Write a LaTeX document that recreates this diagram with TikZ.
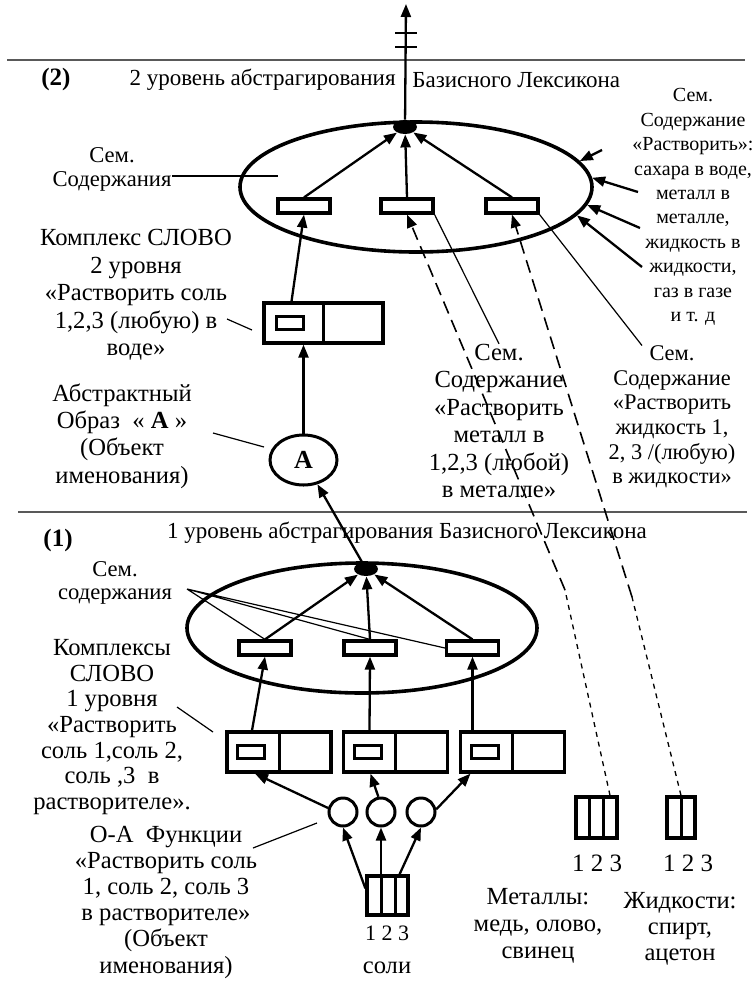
\documentclass[tikz,border=0pt]{standalone}
\usepackage{fontspec}
\setmainfont{Liberation Serif}
\usetikzlibrary{shapes.geometric,arrows.meta,positioning,calc}

\begin{document}
\begin{tikzpicture}[x=0.5pt, y=-0.5pt,
    txt/.style={align=center, inner sep=0pt, font=\fontsize{12.3}{13.7}\selectfont},
    txtsmall/.style={align=center, inner sep=0pt, font=\fontsize{11.2}{12.3}\selectfont},
    headtxt/.style={inner sep=0pt, font=\fontsize{11.5}{13}\selectfont},
    levtxt/.style={inner sep=0pt, font=\bfseries\fontsize{12.5}{14}\selectfont},
    bigell/.style={draw, ellipse, line width=1.8pt, inner sep=0pt},
    semrect/.style={draw, line width=1.6pt, minimum width=26pt, minimum height=7pt, inner sep=0pt},
    wordbox/.style={draw, line width=1.6pt, minimum height=20pt, inner sep=0pt},
    inrect/.style={draw, line width=1.5pt, minimum width=13.5pt, minimum height=6.5pt, inner sep=0pt},
    knot/.style={ellipse, fill, minimum width=12pt, minimum height=7pt, inner sep=0pt},
    oacirc/.style={draw, circle, line width=1.5pt, minimum size=14pt, inner sep=0pt},
    colbox/.style={draw, line width=1.6pt, inner sep=0pt},
    divider/.style={line width=1.5pt},
    arr/.style={line width=1.15pt, -{Triangle[length=6.5pt, width=5pt]}},
    leader/.style={line width=0.6pt},
    sepline/.style={line width=0.7pt, black!65},
    longdash/.style={line width=0.8pt, dash pattern=on 6.5pt off 3.5pt},
    shortdash/.style={line width=0.65pt, dash pattern=on 2.5pt off 2.5pt}]
    \useasboundingbox (0,0) rectangle (755,981);

    % Level 2
    \draw[sepline] (7,60) -- (745,60);
    \node[levtxt] (lev2) at (56,79) {(2)};
    \node[headtxt, anchor=east] (head2a) at (396,80) {2 уровень абстрагирования};
    \node[headtxt, anchor=west] (head2b) at (412,80) {Базисного Лексикона};

    \node[bigell, minimum width=176pt, minimum height=65pt] (ell2) at (416,187) {};
    \node[knot] (knot2) at (405,127) {};
    \coordinate (top) at (406,4);
    \draw[arr] (knot2) -- (top);
    \draw[line width=0.9pt] (395,33) -- (417,33) (395,47) -- (417,47);

    \node[semrect] (sem2a) at (304,206) {};
    \node[semrect] (sem2b) at (407,206) {};
    \node[semrect] (sem2c) at (512,206) {};
    \draw[arr] (sem2a.north) -- (knot2);
    \draw[arr] (sem2b.north) -- (knot2);
    \draw[arr] (sem2c.north) -- (knot2);

    % Word complex of level 2
    \node[wordbox, minimum width=59.5pt] (word2) at (323.5,323) {};
    \draw[divider] (word2.north) -- (word2.south);
    \node[inrect, right=6.5pt of word2.west] (word2in) {};
    \draw[arr] ([xshift=-16pt]word2.north) -- (sem2a.south);

    \node[draw, ellipse, line width=1.5pt, minimum width=33.5pt, minimum height=25pt, inner sep=0pt,
        font=\bfseries\fontsize{13}{15}\selectfont] (objA) at (303.5,460) {А};
    \draw[arr] (objA.north) -- (objA.north |- word2.south);

    % Labels on the left
    \node[txt, font=\fontsize{11.3}{12}\selectfont] (lblsem2) at (112,169) {Сем.\\Содержания};
    \coordinate (pin2) at (278,176);
    \draw[leader] (lblsem2.east |- pin2) -- (pin2);
    \node[txt] (lblword2) at (136,295) {Комплекс СЛОВО\\2 уровня\\«Растворить соль\\1,2,3 (любую) в\\воде»};
    \coordinate (w2from) at (227,319);
    \coordinate (w2to) at (252,330);
    \draw[leader] (w2from) -- (w2to);
    \node[txt] (lblabs) at (122,436) {Абстрактный\\Образ\ \ « \textbf{А} »\\(Объект\\именования)};
    \coordinate (absfrom) at (213,433);
    \coordinate (absto) at (264,447);
    \draw[leader] (absfrom) -- (absto);

    % Labels on the right
    \node[txt, font=\fontsize{10}{12.2}\selectfont] (lblall) at (693,207)
        {Сем.\\Содержание\\«Растворить»:\\сахара в воде,\\металл в\\металле,\\жидкость в\\жидкости,\\газ в газе\\и т. д};
    \coordinate (in1) at (602,150);
    \coordinate (in2) at (638,192);
    \coordinate (in3) at (640,228);
    \coordinate (in4) at (642,267);
    \draw[arr] (in1) -- (ell2.9);
    \draw[arr] (in2) -- (ell2.3);
    \draw[arr] (in3) -- (ell2.-6);
    \draw[arr] (in4) -- (ell2.-10);

    \node[txt] (lblmet) at (499,421) {Сем.\\Содержание\\«Растворить\\металл в\\1,2,3 (любой)\\в металле»};
    \node[txtsmall] (lblliq) at (672,417) {Сем.\\Содержание\\«Растворить\\жидкость 1,\\2, 3 /(любую)\\в жидкости»};
    \draw[leader] (sem2b.south east) -- (lblmet.north);
    \draw[leader] (sem2c.south east) -- ([xshift=-15pt]lblliq.north);

    % Level 1
    \draw[sepline] (18,512) -- (747,512);
    \node[levtxt] (lev1) at (58,540) {(1)};
    \node[headtxt] (head1) at (407,533) {1 уровень абстрагирования Базисного Лексикона};

    \node[bigell, minimum width=175pt, minimum height=65pt] (ell1) at (362,628) {};
    \node[knot] (knot1) at (366,569) {};
    \draw[arr] (knot1) -- (objA);

    \node[semrect] (sem1a) at (265,648) {};
    \node[semrect] (sem1b) at (370,648) {};
    \node[semrect] (sem1c) at (472.5,648) {};
    \draw[arr] (sem1a.north) -- (knot1);
    \draw[arr] (sem1b.north) -- (knot1);
    \draw[arr] (sem1c.north) -- (knot1);

    \node[txt, font=\fontsize{11.3}{11.5}\selectfont] (lblsem1) at (115,583) {Сем.\\содержания};
    \coordinate (fan1) at (187,589);
    \draw[leader] (fan1) -- (sem1a.north) (fan1) -- (sem1b.north) (fan1) -- (sem1c.west);

    % Word complexes of level 1
    \node[wordbox, minimum width=52pt] (word1a) at (279,752) {};
    \node[wordbox, minimum width=52pt] (word1b) at (395.5,752) {};
    \node[wordbox, minimum width=52pt] (word1c) at (512.5,752) {};
    \draw[divider] (word1a.north) -- (word1a.south);
    \draw[divider] (word1b.north) -- (word1b.south);
    \draw[divider] (word1c.north) -- (word1c.south);
    \node[inrect, right=5.5pt of word1a.west] (word1ain) {};
    \node[inrect, right=5.5pt of word1b.west] (word1bin) {};
    \node[inrect, right=5.5pt of word1c.west] (word1cin) {};
    \draw[arr] ([xshift=-13.5pt]word1a.north) -- (sem1a.south);
    \draw[arr] ([xshift=-13pt]word1b.north) -- (sem1b.south);
    \draw[arr] ([xshift=-20pt]word1c.north) -- (sem1c.south);

    \node[txt, font=\fontsize{12.3}{12.8}\selectfont] (lblword1) at (112,727)
        {Комплексы\\СЛОВО\\1 уровня\\«Растворить\\соль 1,соль 2,\\соль ,3\ \ в\\растворителе».};
    \coordinate (w1from) at (177,707);
    \coordinate (w1to) at (213,732);
    \draw[leader] (w1from) -- (w1to);

    % O-A functions
    \node[oacirc] (oa1) at (343,812) {};
    \node[oacirc] (oa2) at (381,812) {};
    \node[oacirc] (oa3) at (421,812) {};
    \draw[arr] (oa1.165) -- ([xshift=-12pt]word1a.south);
    \draw[arr] (oa2.100) -- ([xshift=-12.5pt]word1b.south);
    \draw[arr] (oa3.10) -- ([xshift=-21pt]word1c.south);

    \node[txt, font=\fontsize{12.3}{13.1}\selectfont] (lbloa) at (166,902)
        {О-А\ \ Функции\\«Растворить соль\\1, соль 2, соль 3\\в растворителе»\\(Объект\\именования)};
    \coordinate (oafrom) at (253,848);
    \coordinate (oato) at (317,823);
    \draw[leader] (oafrom) -- (oato);

    % Salts
    \node[colbox, minimum width=20.5pt, minimum height=19.5pt] (salts) at (387.5,895.5) {};
    \draw[divider] ($(salts.north west)!0.36!(salts.north east)$) -- ($(salts.south west)!0.36!(salts.south east)$);
    \draw[divider] ($(salts.north west)!0.68!(salts.north east)$) -- ($(salts.south west)!0.68!(salts.south east)$);
    \draw[arr] ([yshift=-7pt]salts.north west) -- (oa1.south);
    \draw[arr] (oa2.south |- salts.north) -- (oa2.south);
    \draw[arr] ([xshift=6pt]salts.north) -- (oa3.south);
    \node[inner sep=0pt, font=\fontsize{11}{13}\selectfont] (numsalt) at (387,933) {1 2 3};
    \node[txt] (lblsalt) at (387,968) {соли};

    % Metals and liquids
    \node[colbox, minimum width=20.5pt, minimum height=20.5pt] (metals) at (596.5,817.5) {};
    \draw[divider] ($(metals.north west)!0.34!(metals.north east)$) -- ($(metals.south west)!0.34!(metals.south east)$);
    \draw[divider] ($(metals.north west)!0.66!(metals.north east)$) -- ($(metals.south west)!0.66!(metals.south east)$);
    \node[inner sep=0pt, font=\fontsize{12.5}{14}\selectfont] (nummet) at (597,863) {1 2 3};
    \node[txt, font=\fontsize{12.3}{13.5}\selectfont] (lblmetals) at (538,926) {Металлы:\\медь, олово,\\свинец};

    \node[colbox, minimum width=14pt, minimum height=20.5pt] (liquids) at (681,817.5) {};
    \draw[divider] (liquids.north) -- (liquids.south);
    \node[inner sep=0pt, font=\fontsize{12.5}{14}\selectfont] (numliq) at (688,863) {1 2 3};
    \node[txt, font=\fontsize{12.3}{13}\selectfont] (lblliquids) at (680,929) {Жидкости:\\спирт,\\ацетон};

    % Dashed links to the sememes of level 2
    \coordinate (bendmet) at (565,590);
    \coordinate (bendliq) at (632,597);
    \draw[arr, longdash] (bendmet) -- (sem2b.south);
    \draw[arr, longdash] (bendliq) -- (sem2c.south);
    \draw[shortdash] ([xshift=6.75pt]metals.north) -- (bendmet);
    \draw[shortdash] (liquids.north) -- (bendliq);
\end{tikzpicture}
\end{document}
